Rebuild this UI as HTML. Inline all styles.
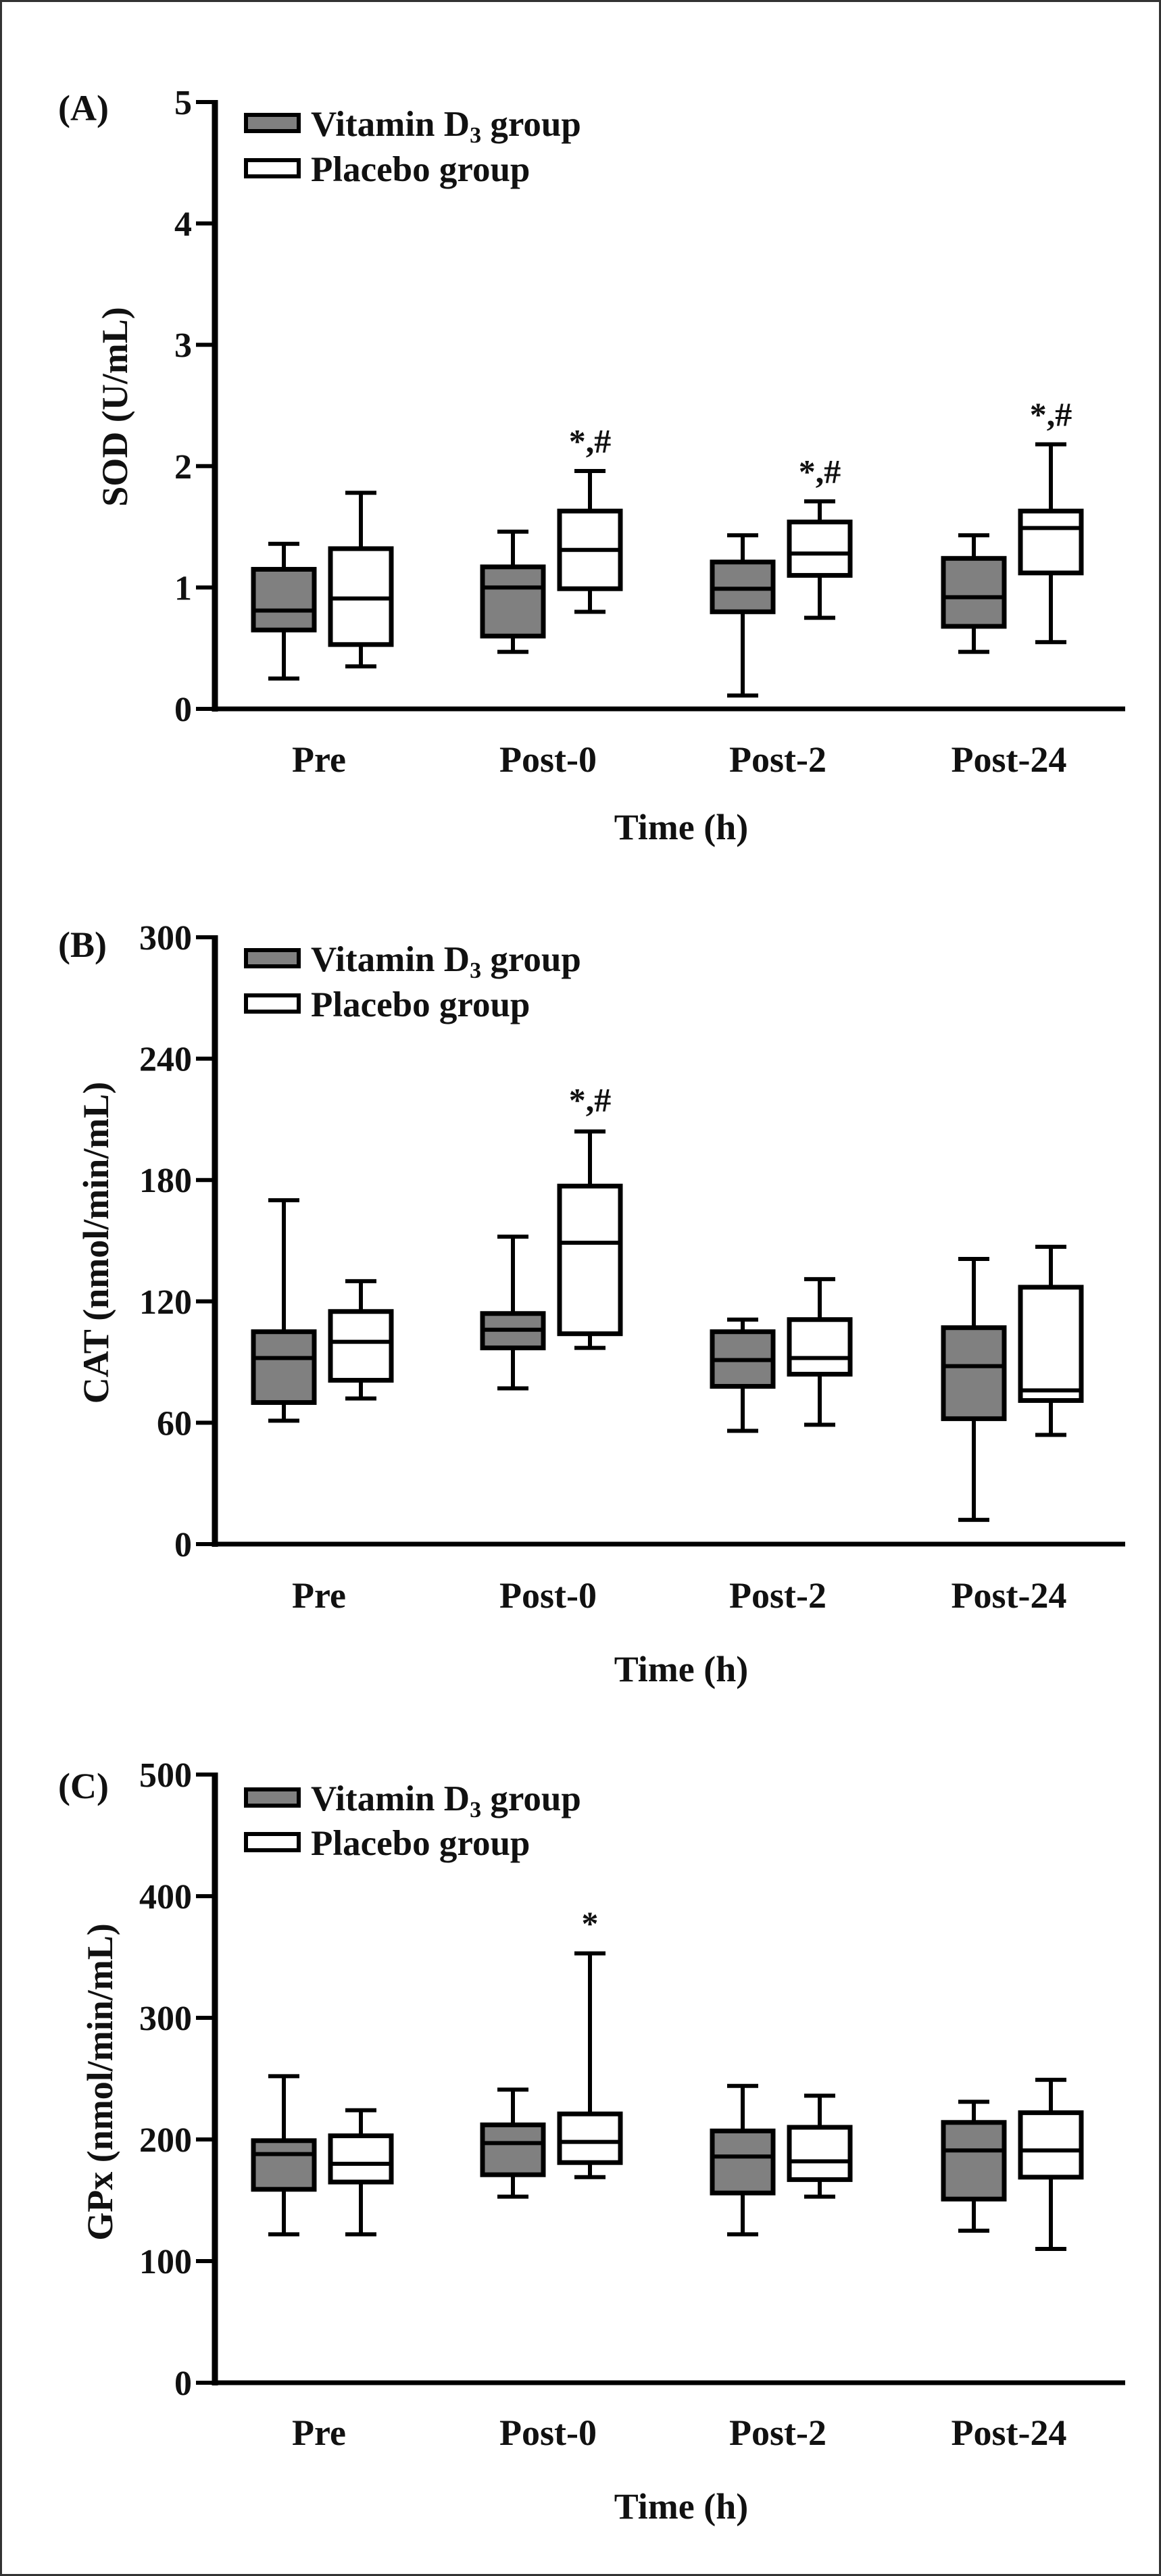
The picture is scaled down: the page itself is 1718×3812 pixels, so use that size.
<!DOCTYPE html>
<html><head><meta charset="utf-8"><style>
html,body{margin:0;padding:0;background:#fff}
svg{display:block}
text{font-family:"Liberation Serif",serif;font-weight:bold;fill:#111}
</style></head><body>
<svg id="chart" width="1718" height="3812" viewBox="0 0 1718 3812" xmlns="http://www.w3.org/2000/svg">
<rect x="1.5" y="1.5" width="1715" height="3809" fill="#fff" stroke="#333" stroke-width="3"/>
</svg>
<script>
const categories = ["Pre","Post-0","Post-2","Post-24"];
// [min, Q1, median, Q3, max]
const sodVit = [[0.25,0.65,0.81,1.15,1.36],[0.47,0.60,1.00,1.17,1.46],[0.11,0.80,0.99,1.21,1.43],[0.47,0.68,0.92,1.24,1.43]];
const sodPla = [[0.35,0.53,0.91,1.32,1.78],[0.80,0.99,1.31,1.63,1.96],[0.75,1.10,1.28,1.54,1.71],[0.55,1.12,1.49,1.63,2.18]];
const catVit = [[61,70,92,105,170],[77,97,106,114,152],[56,78,91,105,111],[12,62,88,107,141]];
const catPla = [[72,81,100,115,130],[97,104,149,177,204],[59,84,92,111,131],[54,71,76,127,147]];
const gpxVit = [[122,159,188,199,252],[153,171,197,212,241],[122,156,186,207,244],[125,151,191,214,231]];
const gpxPla = [[122,165,180,203,224],[169,181,198,221,353],[153,167,182,210,236],[110,169,191,222,249]];
const sodTicks = [0,1,2,3,4,5];
const catTicks = [0,60,120,180,240,300];
const gpxTicks = [0,100,200,300,400,500];
const sodAnno = ["","*,#","*,#","*,#"];
const catAnno = ["","*,#","",""];
const gpxAnno = ["","*","",""];

const NS="http://www.w3.org/2000/svg";
const svg=document.getElementById('chart');
function mk(tag,attrs,parent){const e=document.createElementNS(NS,tag);for(const k in attrs)e.setAttribute(k,attrs[k]);(parent||svg).appendChild(e);return e;}

const panels=[
 {label:"(A)",title:"SOD (U/mL)",top:151,zero:1049,ticks:sodTicks,vit:sodVit,pla:sodPla,anno:sodAnno,annoOff:0.22,labY:160,legY:[167,234],titleX:170,titleY:602,catY:1142,timeY:1242,tickX:288},
 {label:"(B)",title:"CAT (nmol/min/mL)",top:1387,zero:2285,ticks:catTicks,vit:catVit,pla:catPla,anno:catAnno,annoOff:14,labY:1398,legY:[1403,1470],titleX:142,titleY:1839,catY:2379,timeY:2488,tickX:282},
 {label:"(C)",title:"GPx (nmol/min/mL)",top:2626,zero:3526,ticks:gpxTicks,vit:gpxVit,pla:gpxPla,anno:gpxAnno,annoOff:22,labY:2643,legY:[2645,2711],titleX:148,titleY:3081,catY:3618,timeY:3727,tickX:282}
];
const axisX=318, axisRight=1665;
const centers=[477,816,1156,1498];
const off=57, bw=90, cap=46;

panels.forEach((p,pi)=>{
 const g=mk('g',{});
 
 
 const max=p.ticks[p.ticks.length-1];
 const y=v=>p.zero-(v/max)*(p.zero-p.top);
 const lb=mk('text',{x:86,y:p.labY+18,'font-size':54},g);lb.textContent=p.label;
 
 
 const ya=mk('line',{x1:axisX,y1:p.top-3,x2:axisX,y2:p.zero+4,stroke:'#000','stroke-width':9},g);
 
 
 const xa=mk('line',{x1:axisX-4,y1:p.zero,x2:axisRight,y2:p.zero,stroke:'#000','stroke-width':7},g);
 
 
 p.ticks.forEach(t=>{
  const tk=mk('line',{x1:axisX-28,y1:y(t),x2:axisX,y2:y(t),stroke:'#000','stroke-width':6},g);
  
  
  const tl=mk('text',{x:axisX-34,y:y(t)+18,'font-size':52,'text-anchor':'end'},g);tl.textContent=t;
  
  
 });
 const yt=mk('text',{x:0,y:0,'font-size':54,'text-anchor':'middle',transform:`translate(${p.titleX+18},${p.titleY}) rotate(-90)`},g);yt.textContent=p.title;
 
 
 categories.forEach((c,i)=>{
  const cl=mk('text',{x:centers[i]-5,y:p.catY,'font-size':54,'text-anchor':'middle'},g);cl.textContent=c;
  
  
  [[p.vit[i],'#808080',-off,'vitamin'],[p.pla[i],'#fff',off,'placebo']].forEach(([d,fill,dx,nm])=>{
   const cx=centers[i]+dx;
   const bg=mk('g',{},g);
   
   
   mk('line',{x1:cx,y1:y(d[4]),x2:cx,y2:y(d[0]),stroke:'#000','stroke-width':6},bg);
   mk('line',{x1:cx-cap/2,y1:y(d[4]),x2:cx+cap/2,y2:y(d[4]),stroke:'#000','stroke-width':6},bg);
   mk('line',{x1:cx-cap/2,y1:y(d[0]),x2:cx+cap/2,y2:y(d[0]),stroke:'#000','stroke-width':6},bg);
   mk('rect',{x:cx-bw/2,y:y(d[3]),width:bw,height:y(d[1])-y(d[3]),fill:fill,stroke:'#000','stroke-width':7},bg);
   mk('line',{x1:cx-bw/2,y1:y(d[2]),x2:cx+bw/2,y2:y(d[2]),stroke:'#000','stroke-width':6},bg);
  });
  if(p.anno[i]){
   const a=mk('text',{x:centers[i]+off,y:y(p.pla[i][4]+p.annoOff)+12,'font-size':50,'text-anchor':'middle'},g);a.textContent=p.anno[i];
   
   
  }
 });
 const tt=mk('text',{x:1008,y:p.timeY,'font-size':54,'text-anchor':'middle'},g);tt.textContent="Time (h)";
 
 
 [['#808080','Vitamin D','vitamin'],['#fff','Placebo group','placebo']].forEach(([f,txt,nm],k)=>{
  const ly=p.legY[k];
  const lg=mk('g',{},g);
  
  
  mk('rect',{x:364,y:ly+3,width:78,height:24,fill:f,stroke:'#000','stroke-width':6},lg);
  const t=mk('text',{x:460,y:ly+34,'font-size':53},lg);
  if(k===0){
   t.textContent='Vitamin D';
   const s=mk('tspan',{'font-size':34,dy:10},t);s.textContent='3';
   const r=mk('tspan',{dy:-10},t);r.textContent=' group';
  } else t.textContent=txt;
 });
});
</script>
</body></html>
